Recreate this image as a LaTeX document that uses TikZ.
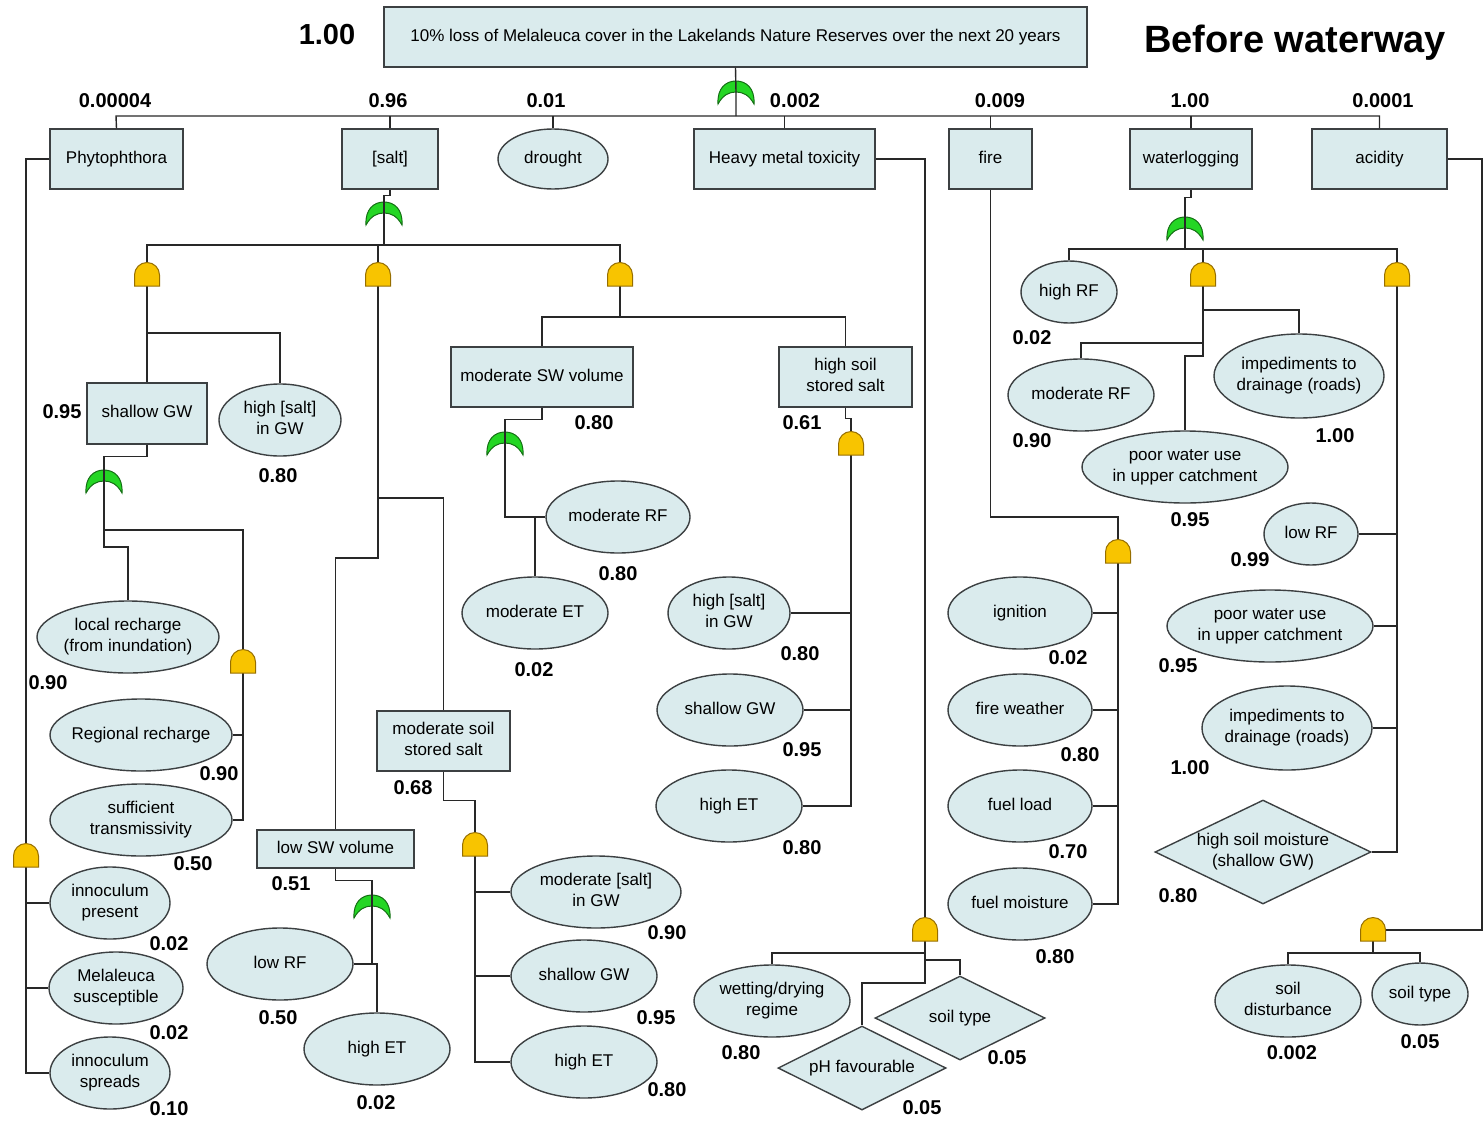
\documentclass[tikz,border=0pt]{standalone}
\usepackage{fontspec}
\setmainfont{Liberation Sans}
\usetikzlibrary{shapes.geometric}
\definecolor{nodef}{RGB}{218,235,237}
\definecolor{edgec}{RGB}{60,64,66}
\definecolor{linec}{RGB}{40,40,40}
\definecolor{orfill}{RGB}{36,214,36}
\definecolor{ordraw}{RGB}{20,110,20}
\definecolor{andfill}{RGB}{248,196,0}
\definecolor{anddraw}{RGB}{150,110,0}
\newcommand\evtext[1]{\makebox[0pt]{\begin{tabular}{@{}c@{}}#1\end{tabular}}}
\newcommand\nodefont{\fontsize{17}{20.5}\selectfont}
\newcommand\probfont{\fontsize{20}{24}\selectfont\bfseries}
\tikzset{
  conn/.style={draw=linec, line width=1.4pt},
  evbox/.style={rectangle, draw=edgec, fill=nodef, line width=1.4pt, inner sep=0pt, font=\nodefont},
  evell/.style={ellipse, draw=edgec, fill=nodef, line width=1.4pt, inner sep=0pt, font=\nodefont},
  evdia/.style={diamond, draw=edgec, fill=nodef, line width=1.4pt, inner sep=0pt, font=\nodefont},
  prob/.style={font=\probfont, inner sep=0pt},
  andgate/.pic={\filldraw[fill=andfill, draw=anddraw, line width=1pt]
      (-12.5,11) -- (-12.5,0) arc[start angle=180, end angle=360, radius=12.5] -- (12.5,11) -- cycle;},
  orgate/.pic={\filldraw[fill=orfill, draw=ordraw, line width=1pt]
      (-18,12) .. controls (-19,-4) and (-10,-11) .. (0,-11)
      .. controls (10,-11) and (19,-4) .. (18,12)
      .. controls (13,3) and (7,0) .. (0,0)
      .. controls (-7,0) and (-13,3) .. (-18,12) -- cycle;},
}
\begin{document}
\begin{tikzpicture}[x=1pt, y=-1pt]
\useasboundingbox (0,0) rectangle (1484,1122);

% ---------- headings ----------
\node[prob, font=\fontsize{29}{32}\selectfont\bfseries] (ptop) at (327,35) {1.00};
\node[font=\fontsize{38}{42}\selectfont\bfseries, inner sep=0pt] (title) at (1295,43) {Before waterway};

% ---------- top event and first level ----------
\node[evbox, minimum width=703, minimum height=60] (top) at (735.5,37)
  {\evtext{10\% loss of Melaleuca cover in the Lakelands Nature Reserves over the next 20 years}};
\node[evbox, minimum width=133, minimum height=60] (phy) at (116.5,159) {\evtext{Phytophthora}};
\node[evbox, minimum width=96, minimum height=60] (salt) at (390,159) {\evtext{[salt]}};
\node[evell, minimum width=110, minimum height=60] (drought) at (553,159) {\evtext{drought}};
\node[evbox, minimum width=181, minimum height=60] (hmt) at (784.5,159) {\evtext{Heavy metal toxicity}};
\node[evbox, minimum width=83, minimum height=60] (fire) at (990.5,159) {\evtext{fire}};
\node[evbox, minimum width=122, minimum height=60] (wlog) at (1191,159) {\evtext{waterlogging}};
\node[evbox, minimum width=135, minimum height=60] (acid) at (1379.5,159) {\evtext{acidity}};

\node[prob] (p01) at (115,101) {0.00004};
\node[prob] (p02) at (388,101) {0.96};
\node[prob] (p03) at (546,101) {0.01};
\node[prob] (p04) at (795,101) {0.002};
\node[prob] (p05) at (1000,101) {0.009};
\node[prob] (p06) at (1190,101) {1.00};
\node[prob] (p07) at (1383,101) {0.0001};

% ---------- [salt] branch ----------
\node[evbox, minimum width=120, minimum height=61] (sgwA) at (147,413.5) {\evtext{shallow GW}};
\node[evell, minimum width=122, minimum height=72] (hsA) at (280,420) {\evtext{high [salt]\\in GW}};
\node[evell, minimum width=182, minimum height=72] (lr) at (128,637) {\evtext{local recharge\\(from inundation)}};
\node[evell, minimum width=182, minimum height=72] (rr) at (141,735) {\evtext{Regional recharge}};
\node[evell, minimum width=182, minimum height=72] (stv) at (141,820) {\evtext{sufficient\\transmissivity}};
\node[evbox, minimum width=133, minimum height=60] (mss) at (443.5,741) {\evtext{moderate soil\\stored salt}};
\node[evell, minimum width=170, minimum height=72] (msg) at (596,892) {\evtext{moderate [salt]\\in GW}};
\node[evell, minimum width=146, minimum height=72] (sgwB) at (584,976) {\evtext{shallow GW}};
\node[evell, minimum width=146, minimum height=72] (hetB) at (584,1062) {\evtext{high ET}};
\node[evbox, minimum width=157, minimum height=38] (lsw) at (335.5,849) {\evtext{low SW volume}};
\node[evell, minimum width=146, minimum height=72] (lrfA) at (280,964) {\evtext{low RF}};
\node[evell, minimum width=146, minimum height=72] (hetA) at (377,1049) {\evtext{high ET}};
\node[evbox, minimum width=182, minimum height=60] (msw) at (542,377) {\evtext{moderate SW volume}};
\node[evbox, minimum width=133, minimum height=60] (hss) at (845.5,377) {\evtext{high soil\\stored salt}};
\node[evell, minimum width=144, minimum height=72] (mrfA) at (618,517) {\evtext{moderate RF}};
\node[evell, minimum width=146, minimum height=72] (met) at (535,613) {\evtext{moderate ET}};
\node[evell, minimum width=122, minimum height=72] (hsC) at (729,613) {\evtext{high [salt]\\in GW}};
\node[evell, minimum width=146, minimum height=72] (sgwC) at (730,710) {\evtext{shallow GW}};
\node[evell, minimum width=146, minimum height=72] (hetC) at (729,806) {\evtext{high ET}};

\node[prob] (p11) at (62,412) {0.95};
\node[prob] (p12) at (278,476) {0.80};
\node[prob] (p13) at (48,683) {0.90};
\node[prob] (p14) at (219,774) {0.90};
\node[prob] (p15) at (193,864) {0.50};
\node[prob] (p16) at (413,788) {0.68};
\node[prob] (p17) at (667,933) {0.90};
\node[prob] (p18) at (656,1018) {0.95};
\node[prob] (p19) at (667,1090) {0.80};
\node[prob] (p20) at (291,884) {0.51};
\node[prob] (p21) at (278,1018) {0.50};
\node[prob] (p22) at (376,1103) {0.02};
\node[prob] (p23) at (594,423) {0.80};
\node[prob] (p24) at (802,423) {0.61};
\node[prob] (p25) at (618,574) {0.80};
\node[prob] (p26) at (534,670) {0.02};
\node[prob] (p27) at (800,654) {0.80};
\node[prob] (p28) at (802,750) {0.95};
\node[prob] (p29) at (802,848) {0.80};

% ---------- Phytophthora branch ----------
\node[evell, minimum width=120, minimum height=72] (ip) at (110,903) {\evtext{innoculum\\present}};
\node[evell, minimum width=134, minimum height=72] (ms) at (116,988) {\evtext{Melaleuca\\susceptible}};
\node[evell, minimum width=120, minimum height=72] (is) at (110,1073) {\evtext{innoculum\\spreads}};
\node[prob] (p31) at (169,944) {0.02};
\node[prob] (p32) at (169,1033) {0.02};
\node[prob] (p33) at (169,1109) {0.10};

% ---------- heavy metal branch ----------
\node[evell, minimum width=156, minimum height=72] (wd) at (772,1001) {\evtext{wetting/drying\\regime}};
\node[evdia, minimum width=170, minimum height=84] (stA) at (960,1018) {\evtext{soil type}};
\node[evdia, minimum width=168, minimum height=84] (ph) at (862,1068) {\evtext{pH favourable}};
\node[prob] (p41) at (741,1053) {0.80};
\node[prob] (p42) at (1007,1058) {0.05};
\node[prob] (p43) at (922,1108) {0.05};

% ---------- fire branch ----------
\node[evell, minimum width=144, minimum height=72] (ign) at (1020,613) {\evtext{ignition}};
\node[evell, minimum width=144, minimum height=72] (fw) at (1020,710) {\evtext{fire weather}};
\node[evell, minimum width=144, minimum height=72] (fl) at (1020,806) {\evtext{fuel load}};
\node[evell, minimum width=144, minimum height=72] (fm) at (1020,904) {\evtext{fuel moisture}};
\node[prob] (p51) at (1068,658) {0.02};
\node[prob] (p52) at (1080,755) {0.80};
\node[prob] (p53) at (1068,852) {0.70};
\node[prob] (p54) at (1055,957) {0.80};

% ---------- waterlogging branch ----------
\node[evell, minimum width=96, minimum height=62] (hrf) at (1069,292) {\evtext{high RF}};
\node[evell, minimum width=146, minimum height=72] (mrfB) at (1081,395) {\evtext{moderate RF}};
\node[evell, minimum width=170, minimum height=84] (impA) at (1299,376) {\evtext{impediments to\\drainage (roads)}};
\node[evell, minimum width=206, minimum height=72] (pwuA) at (1185,467) {\evtext{poor water use\\in upper catchment}};
\node[evell, minimum width=94, minimum height=62] (lrfB) at (1311,534) {\evtext{low RF}};
\node[evell, minimum width=206, minimum height=72] (pwuB) at (1270,626) {\evtext{poor water use\\in upper catchment}};
\node[evell, minimum width=170, minimum height=84] (impB) at (1287,728) {\evtext{impediments to\\drainage (roads)}};
\node[evdia, minimum width=216, minimum height=104] (hsm) at (1263,852) {\evtext{high soil moisture\\(shallow GW)}};
\node[prob] (p61) at (1032,338) {0.02};
\node[prob] (p62) at (1032,441) {0.90};
\node[prob] (p63) at (1335,436) {1.00};
\node[prob] (p64) at (1190,520) {0.95};
\node[prob] (p65) at (1250,560) {0.99};
\node[prob] (p66) at (1178,666) {0.95};
\node[prob] (p67) at (1190,768) {1.00};
\node[prob] (p68) at (1178,896) {0.80};

% ---------- acidity branch ----------
\node[evell, minimum width=146, minimum height=72] (sd) at (1288,1001) {\evtext{soil\\disturbance}};
\node[evell, minimum width=96, minimum height=62] (stB) at (1420,994) {\evtext{soil type}};
\node[prob] (p71) at (1292,1053) {0.002};
\node[prob] (p72) at (1420,1042) {0.05};

% ---------- gate positions ----------
\coordinate (gTop) at (736,92);
\coordinate (gSalt) at (384,213);
\coordinate (gSgw) at (104,481);
\coordinate (gLsw) at (372,906);
\coordinate (gMsw) at (505,443);
\coordinate (gWlog) at (1185,228);
\coordinate (aS1) at (147,275);
\coordinate (aS2) at (378,275);
\coordinate (aS3) at (620,275);
\coordinate (aRec) at (243,662);
\coordinate (aMss) at (475,845);
\coordinate (aHss) at (851,444);
\coordinate (aHmt) at (925,930);
\coordinate (aFire) at (1118,552);
\coordinate (aW1) at (1203,275);
\coordinate (aW2) at (1397,275);
\coordinate (aAcid) at (1373,930);
\coordinate (aPhy) at (26,856);

% OR gates sit under their connectors
\foreach \g in {gTop,gSalt,gSgw,gLsw,gMsw,gWlog} \pic at (\g) {orgate};

% ---------- connectors ----------
\begin{scope}[conn]
% top level
\draw (top.south) -- (gTop) -- (736,116);
\draw (phy.north) -- (116,116) -| (acid.north);
\foreach \n in {salt,drought,hmt,fire,wlog} \draw (\n.north) -- (\n.north |- 0,116);

% [salt]
\draw (salt.south) -- ++(0,6) -| (gSalt);
\draw (gSalt) -- (384,245);
\draw (aS1) -- (147,245) -- (620,245) -- (aS3);
\draw (aS2) -- (378,245);
\draw (aS1) -- (sgwA.north);
\draw (147,333) -| (hsA.north);
\draw (sgwA.south) -- ++(0,12) -| (gSgw);
\draw (gSgw) -- (104,530) -| (aRec);
\draw (104,530) -- (104,547) -| (lr.north);
\draw (aRec) |- (stv.east);
\draw (rr.east) -- (rr.east -| aRec);
\draw (aS2) -- (378,558) -| (lsw.north);
\draw (378,498) -| (mss.north);
\draw (mss.south) -- ++(0,29) -| (aMss);
\draw (aMss) |- (hetB.west);
\draw (msg.west) -- (msg.west -| aMss);
\draw (sgwB.west) -- (sgwB.west -| aMss);
\draw (lsw.south) -- ++(0,12) -| (gLsw);
\draw (gLsw) |- (lrfA.east);
\draw (lrfA.east) -| (hetA.north);
\draw (aS3) -- (620,317) -| (msw.north);
\draw (620,317) -| (hss.north);
\draw (msw.south) -- ++(0,12) -| (gMsw);
\draw (gMsw) |- (mrfA.west);
\draw (met.north |- mrfA.west) -- (met.north);
\draw (hss.south) -- ++(0,11) -| (aHss);
\draw (aHss) |- (hetC.east);
\draw (hsC.east) -- (hsC.east -| aHss);
\draw (sgwC.east) -- (sgwC.east -| aHss);

% Phytophthora
\draw (phy.west) -| (aPhy);
\draw (aPhy) |- (is.west);
\draw (ip.west) -- (ip.west -| aPhy);
\draw (ms.west) -- (ms.west -| aPhy);

% heavy metal toxicity
\draw (hmt.east) -| (aHmt);
\draw (aHmt) -- (925,983) -| (ph.north);
\draw (925,953) -| (wd.north);
\draw (925,960) -| (stA.north);

% fire
\draw (fire.south) |- (1118,517) -- (aFire);
\draw (aFire) |- (fm.east);
\draw (ign.east) -- (ign.east -| aFire);
\draw (fw.east) -- (fw.east -| aFire);
\draw (fl.east) -- (fl.east -| aFire);

% waterlogging
\draw (wlog.south) -- ++(0,8) -| (gWlog);
\draw (gWlog) -- (1185,249);
\draw (hrf.north) |- (1397,249) -- (aW2);
\draw (1203,249) -- (aW1);
\draw (aW1) -- (1203,356) -| (pwuA.north);
\draw (1203,310) -| (impA.north);
\draw (1203,343) -| (mrfB.north);
\draw (aW2) |- (hsm.east);
\draw (lrfB.east) -- (lrfB.east -| aW2);
\draw (pwuB.east) -- (pwuB.east -| aW2);
\draw (impB.east) -- (impB.east -| aW2);

% acidity
\draw (acid.east) -- (1482,159) |- (aAcid);
\draw (aAcid) -- (1373,953);
\draw (sd.north) |- (1420,953) -- (stB.north);
\end{scope}

% AND gates cover their connectors
\foreach \g in {aS1,aS2,aS3,aRec,aMss,aHss,aHmt,aFire,aW1,aW2,aAcid,aPhy} \pic at (\g) {andgate};
\end{tikzpicture}
\end{document}
